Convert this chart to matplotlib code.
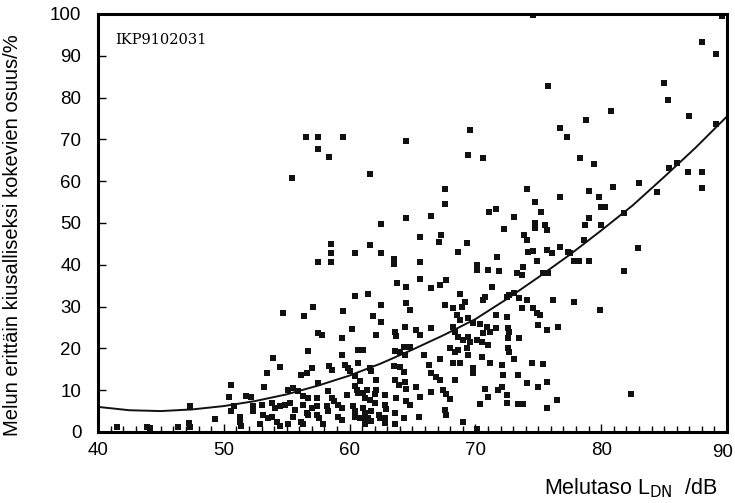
import numpy as np
import matplotlib
matplotlib.use('Agg')
import matplotlib.pyplot as plt
from matplotlib.ticker import MultipleLocator, FuncFormatter

# measured points: noise level L_DN (dB) and share of highly annoyed (%)
noise_db = [
    56.5, 57.5, 59.5, 57.5, 58.4, 55.4, 61.6, 64.5,
    74.6, 89.6, 88.0, 89.1, 75.8, 85.0, 85.3, 87.0, 89.1, 69.6, 69.4, 70.6,
    78.8, 80.8, 76.7, 77.3, 78.3, 79.4, 67.6, 67.6, 74.1, 74.7, 75.2, 76.7,
    79.0, 79.8, 80.0, 80.3, 80.9, 83.0, 84.4, 85.4, 86.0, 86.9, 88.0, 88.0,
    81.8, 71.1, 71.6, 73.1, 66.5, 64.5, 79.0,
    78.7, 72.3, 74.7, 74.7, 75.5, 75.7, 80.0, 65.6, 67.3, 67.1, 69.3, 68.6,
    73.9, 74.1, 74.2, 74.6, 75.7, 76.1, 76.7, 77.4, 77.5, 78.6, 82.9, 71.7,
    74.9, 77.8, 78.2, 79.0, 65.6, 70.1, 70.1, 71.0, 71.9, 73.3, 73.7, 73.8,
    75.4, 75.8, 81.8, 65.6, 67.7, 67.2, 66.5, 64.5, 71.3, 68.8, 69.2, 68.9,
    70.8, 70.6, 72.5, 72.7, 73.1, 73.5, 74.1, 67.6, 76.2, 77.8, 79.9, 64.5,
    64.8, 68.2, 68.5, 68.8, 69.4, 69.8, 70.4, 71.6, 72.5, 73.7, 74.6, 74.9,
    75.1, 64.4, 65.3, 65.6, 66.5, 68.2, 68.4, 70.9, 71.2, 71.6, 70.6, 72.6,
    72.7, 75.0, 75.7, 76.6, 64.3, 64.0, 64.4, 64.8, 68.6, 69.0, 69.4, 69.6,
    70.1, 70.5, 68.0, 68.4, 69.3, 69.4, 68.6, 71.0, 72.6, 72.6, 72.7, 73.5,
    65.9, 67.2, 70.5, 73.1, 66.3, 68.2, 68.8, 69.8, 69.8, 71.2, 72.1, 74.5,
    75.4, 64.0, 64.3, 66.5, 66.9, 67.2, 68.4, 72.2, 73.4, 74.1, 75.0, 75.7,
    64.4, 64.5, 65.3, 66.5, 67.4, 67.7, 68.0, 70.8, 71.0, 71.8, 72.1, 72.5,
    64.5, 64.8, 65.6, 67.6, 67.7, 70.4, 72.5, 73.4, 73.8, 76.5, 75.7, 82.4,
    65.5, 64.3, 69.0, 70.1,
    62.5, 58.5, 58.5, 58.5, 57.5, 60.4, 61.6, 62.5, 63.5, 63.5, 63.8, 60.4,
    61.5, 62.5, 57.1, 59.5, 61.9,
    54.7, 56.4, 41.5, 43.9, 44.1, 46.4, 47.2, 47.3, 47.3,
    53.9, 54.5, 53.4, 56.7, 56.1, 56.6, 50.6, 53.2, 55.1, 55.5, 55.9, 56.3,
    50.4, 51.8, 52.2, 50.8, 50.6, 52.3, 52.3, 53.0, 53.8, 54.1, 54.5, 54.9,
    55.3, 55.7, 56.3, 56.6, 49.3, 51.3, 51.3, 51.4, 53.1, 53.5, 52.9, 53.8,
    54.2, 54.5, 55.1, 55.5, 56.1, 56.3,
    62.5, 57.5, 57.8, 60.2, 59.4, 62.1, 63.6, 63.7, 59.4, 60.7, 61.1, 58.4,
    58.6, 57.0, 59.6, 59.9, 60.0, 60.7, 61.6, 61.7, 63.5, 57.5, 60.8, 62.1,
    63.6, 63.9, 58.3, 59.8, 60.4, 60.6, 60.7, 61.1, 61.4, 61.2, 61.6, 62.1,
    62.0, 62.8, 56.7, 57.4, 58.6, 58.8, 59.1, 59.4, 63.7, 57.0, 57.4, 58.2,
    58.3, 60.3, 60.4, 60.4, 61.1, 61.2, 61.7, 62.0, 62.3, 62.4, 62.8, 62.9,
    63.6, 57.4, 57.6, 59.1, 59.4, 60.8, 61.1, 61.5, 57.9, 61.2, 61.7, 63.6,
    62.8, 62.8, 56.7, 63.6, 60.4,
]
annoyed_pct = [
    70.6, 70.6, 70.6, 67.6, 65.7, 60.7, 61.7, 69.7,
    99.8, 99.4, 93.4, 90.4, 82.8, 83.6, 79.4, 75.6, 73.7, 72.2, 66.3, 65.6,
    74.6, 76.8, 72.7, 70.5, 65.5, 64.1, 58.1, 54.5, 58.1, 54.9, 52.7, 56.3,
    57.7, 56.3, 53.9, 53.8, 58.5, 59.5, 57.3, 63.2, 64.3, 62.3, 62.3, 58.3,
    52.3, 52.6, 53.3, 51.4, 51.6, 51.1, 51.1,
    49.5, 48.5, 49.9, 48.7, 49.5, 48.3, 49.5, 46.7, 47.1, 45.5, 45.1, 43.1,
    47.1, 45.9, 43.1, 43.4, 43.5, 42.7, 44.3, 43.1, 42.7, 45.9, 43.9, 41.9,
    40.8, 40.8, 41.0, 40.8, 40.6, 39.9, 38.8, 38.8, 38.4, 38.0, 37.6, 39.5,
    38.0, 38.0, 38.6, 36.6, 36.4, 35.2, 34.5, 34.6, 34.6, 33.0, 31.2, 30.0,
    32.4, 31.6, 32.4, 32.8, 33.2, 32.0, 31.6, 30.4, 31.6, 31.2, 29.2, 30.8,
    29.2, 29.6, 28.0, 26.8, 27.2, 26.0, 25.8, 28.0, 27.6, 29.6, 29.6, 28.4,
    28.0, 25.2, 24.4, 23.2, 24.8, 25.2, 24.0, 25.2, 24.0, 24.8, 23.7, 24.8,
    24.0, 25.6, 24.4, 25.2, 20.4, 19.2, 18.4, 20.4, 22.8, 22.0, 22.8, 21.6,
    22.0, 21.6, 20.0, 19.2, 20.0, 18.4, 19.6, 20.8, 22.4, 20.0, 19.2, 22.4,
    18.4, 17.4, 18.0, 17.4, 16.0, 16.4, 16.4, 15.2, 14.0, 16.4, 16.0, 16.4,
    16.2, 15.6, 14.4, 14.0, 13.2, 12.4, 12.4, 13.6, 13.6, 11.6, 10.8, 12.0,
    12.0, 10.4, 10.8, 9.6, 10.0, 9.2, 8.0, 10.4, 8.4, 10.0, 10.8, 8.8,
    7.3, 6.5, 8.4, 5.3, 4.1, 6.7, 6.9, 6.7, 6.7, 7.7, 5.7, 9.1,
    3.7, 3.3, 2.5, 0.6,
    49.7, 44.9, 42.7, 40.7, 40.7, 42.7, 44.7, 42.7, 41.5, 40.3, 35.7, 32.5,
    33.0, 30.4, 29.8, 29.0, 27.7,
    28.4, 27.8, 1.3, 1.3, 0.9, 1.3, 2.1, 1.3, 6.1,
    17.7, 15.5, 14.1, 19.3, 13.7, 14.1, 11.3, 10.7, 10.1, 10.5, 9.7, 8.5,
    8.3, 8.5, 8.4, 6.1, 5.1, 6.1, 5.1, 6.5, 7.0, 5.7, 6.1, 6.5,
    7.0, 5.3, 6.5, 4.5, 3.2, 3.7, 2.5, 1.4, 4.1, 3.3, 1.9, 3.7,
    2.5, 1.4, 1.9, 3.7, 2.5, 1.8,
    26.3, 23.7, 23.3, 24.7, 22.6, 23.3, 23.9, 22.9, 18.3, 19.5, 19.7, 15.7,
    14.9, 15.3, 16.1, 15.3, 14.5, 16.5, 15.3, 14.5, 15.7, 11.7, 12.1, 12.5,
    12.5, 11.3, 9.7, 8.9, 10.9, 10.1, 9.3, 9.3, 10.1, 8.1, 7.7, 10.1,
    9.0, 8.9, 8.1, 8.1, 8.1, 7.3, 6.5, 5.7, 8.1, 5.7, 6.1, 6.1,
    4.9, 6.1, 4.9, 3.7, 5.7, 4.5, 4.9, 6.9, 4.1, 3.4, 6.5, 5.4,
    4.5, 4.1, 3.4, 3.7, 2.9, 3.4, 3.4, 3.4, 1.8, 1.8, 2.6, 1.8,
    3.4, 2.2, 4.1, 19.3, 13.3,
]

# fitted curve
curve_db = [40, 42.5, 45, 47.5, 50, 52.5, 55, 57.5, 60, 62.5, 65, 67.5,
            70, 72.5, 75, 77.5, 80, 82.5, 85, 87.5, 90]
curve_pct = [6.0, 5.2, 5.0, 5.4, 6.2, 7.4, 9.0, 11.1, 13.5, 16.4, 19.7, 23.2,
             27.0, 31.8, 37.0, 42.4, 48.2, 54.2, 61.0, 68.0, 75.5]

plt.rcParams['font.family'] = ['Liberation Sans', 'DejaVu Sans']

fig = plt.figure(figsize=(7.35, 5.03), dpi=100)
ax = fig.add_axes([0.1333, 0.1412, 0.8558, 0.8310])

ax.plot(noise_db, annoyed_pct, 's', color='#111111', markersize=3.8, markeredgewidth=0)
ax.plot(curve_db, curve_pct, color='#111111', linewidth=1.4)

ax.set_xlim(40, 90)
ax.set_ylim(0, 100)
ax.xaxis.set_major_locator(MultipleLocator(10))
ax.xaxis.set_minor_locator(MultipleLocator(1))
ax.yaxis.set_major_locator(MultipleLocator(10))
# the 90 label is drawn separately, nudged left to stay inside the picture
ax.xaxis.set_major_formatter(FuncFormatter(lambda v, p: '' if v >= 90 else '%d' % v))
ax.tick_params(axis='both', which='both', direction='in', top=False, right=False,
               labelsize=13.5, width=1)
ax.tick_params(axis='x', which='major', length=6, pad=7)
ax.tick_params(axis='x', which='minor', length=4)
ax.tick_params(axis='y', which='major', length=6, pad=12)
for s in ax.spines.values():
    s.set_linewidth(2.2)

ax.annotate('90', xy=(90, 0), xycoords='data', xytext=(4, -8.5),
            textcoords='offset points', ha='right', va='top', fontsize=13.5)

ax.text(0.027, 0.938, 'IKP9102031', transform=ax.transAxes, fontsize=10.5,
        family='DejaVu Serif', va='center', ha='left')

ax.set_ylabel('Melun erittäin kiusalliseksi kokevien osuus/%', fontsize=14.5)
ax.yaxis.set_label_coords(-0.121, 0.471)
fig.text(0.977, 0.03, r'Melutaso L$_{\mathrm{DN}}$  /dB', fontsize=15.5,
         ha='right', va='center')

fig.savefig('out.png', dpi=100)
